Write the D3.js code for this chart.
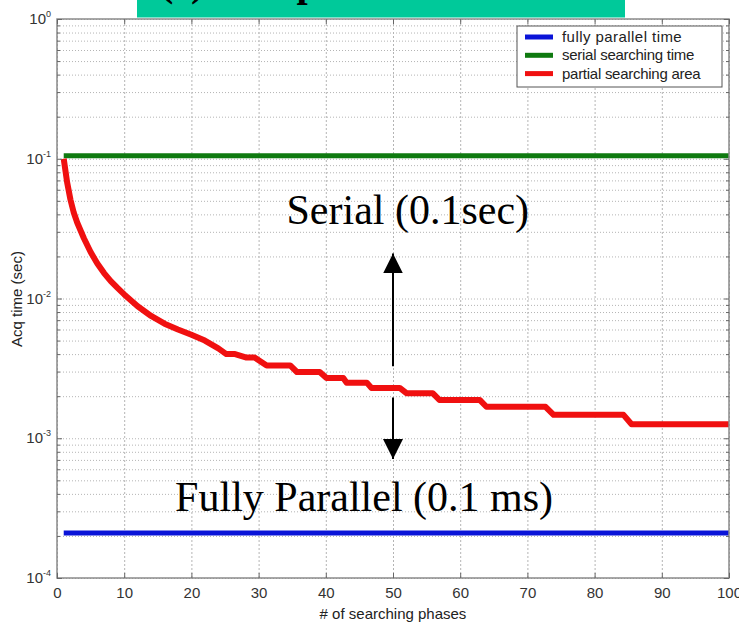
<!DOCTYPE html>
<html>
<head>
<meta charset="utf-8">
<script src="https://cdn.jsdelivr.net/npm/d3@7"></script>
<style>
  body { margin: 0; background: #fff; }
  svg { display: block; }
</style>
</head>
<body>
<div id="chart"></div>
<script>
// chart data
var xTicks = [0, 10, 20, 30, 40, 50, 60, 70, 80, 90, 100];
var yDecades = [1e-4, 1e-3, 1e-2, 1e-1, 1];
var yExponents = ["-4", "-3", "-2", "-1", "0"];

var seriesNames = ["fully parallel time", "serial searching time", "partial searching area"];
var seriesColors = ["#0a14d8", "#0f7a10", "#f01010"];

// flat lines
var parallelX = [1, 100];
var parallelY = [2.1e-4, 2.1e-4];
var serialX = [1, 100];
var serialY = [0.105, 0.105];

// partial searching (staircase)
var partialX = [1, 1.5, 2, 2.5, 3, 4, 5, 6, 7, 8, 9, 10, 12, 14, 16, 18, 20, 22, 24, 25.2, 26.5, 28.2, 29.4, 31.2, 34.7, 35.7, 39.1, 40.1, 42.6, 43.1, 46.1, 46.8, 51, 52, 55.9, 56.9, 62.9, 63.9, 72.7, 73.9, 84.3, 85.5, 100];
var partialY = [0.1, 0.068, 0.051, 0.041, 0.035, 0.027, 0.0215, 0.0178, 0.0152, 0.0133, 0.0119, 0.0107, 0.0088, 0.0075, 0.0066, 0.006, 0.0055, 0.0050, 0.0044, 0.0040, 0.0040, 0.00378, 0.00378, 0.00332, 0.00332, 0.00298, 0.00298, 0.0027, 0.0027, 0.0025, 0.0025, 0.00229, 0.00229, 0.0021, 0.0021, 0.00188, 0.00188, 0.00168, 0.00168, 0.00147, 0.00147, 0.00126, 0.00126];

// svg size
var svgWidth = 739;
var svgHeight = 623;
var margin = { top: 19, right: 10, bottom: 44, left: 57 };
var width = 672;
var height = 559;

var svg = d3.select("#chart")
  .append("svg")
  .attr("width", svgWidth)
  .attr("height", svgHeight)
  .style("font-family", "'Liberation Sans', Arial, sans-serif");

var chartGroup = svg.append("g")
  .attr("transform", `translate(${margin.left}, ${margin.top})`);

var xScale = d3.scaleLinear().domain([0, 100]).range([0, width]);
var yScale = d3.scaleLog().domain([1e-4, 1]).range([height, 0]);

// minor values for the log grid
var yMinor = [];
yDecades.slice(0, 4).forEach(function(d) {
  for (var k = 2; k <= 9; k++) yMinor.push(d * k);
});

// grid lines
chartGroup.append("g")
  .attr("class", "grid")
  .call(d3.axisLeft(yScale).tickValues(yMinor.concat(yDecades)).tickSize(-width).tickFormat(""))
  .call(g => g.select(".domain").remove())
  .selectAll("line")
  .attr("stroke", "#b4b4b4")
  .attr("stroke-dasharray", "1,2");

chartGroup.append("g")
  .attr("class", "grid")
  .attr("transform", `translate(0, ${height})`)
  .call(d3.axisBottom(xScale).tickValues(xTicks).tickSize(-height).tickFormat(""))
  .call(g => g.select(".domain").remove())
  .selectAll("line")
  .attr("stroke", "#b4b4b4")
  .attr("stroke-dasharray", "2,2");

// lines
var line = d3.line()
  .x(d => xScale(d[0]))
  .y(d => yScale(d[1]));

chartGroup.append("path")
  .datum(parallelX.map((x, i) => [x, parallelY[i]]))
  .attr("fill", "none")
  .attr("stroke", seriesColors[0])
  .attr("stroke-width", 5)
  .attr("d", line);

chartGroup.append("path")
  .datum(serialX.map((x, i) => [x, serialY[i]]))
  .attr("fill", "none")
  .attr("stroke", seriesColors[1])
  .attr("stroke-width", 5)
  .attr("d", line);

chartGroup.append("path")
  .datum(partialX.map((x, i) => [x, partialY[i]]))
  .attr("fill", "none")
  .attr("stroke", seriesColors[2])
  .attr("stroke-width", 6)
  .attr("stroke-linejoin", "round")
  .attr("d", line);

// axes box
chartGroup.append("rect")
  .attr("width", width)
  .attr("height", height)
  .attr("fill", "none")
  .attr("stroke", "#8a8a8a")
  .attr("stroke-width", 1.5);

// x axis ticks and labels
var bottomAxis = d3.axisBottom(xScale).tickValues(xTicks).tickSizeInner(-5).tickSizeOuter(0).tickPadding(9);
chartGroup.append("g")
  .attr("transform", `translate(0, ${height})`)
  .call(bottomAxis)
  .call(g => g.select(".domain").remove())
  .call(g => g.selectAll("line").attr("stroke", "#666"))
  .call(g => g.selectAll("text").attr("font-size", "15px").attr("fill", "#333").style("font-family", "'Liberation Sans', Arial, sans-serif"));

chartGroup.append("g")
  .call(d3.axisTop(xScale).tickValues(xTicks).tickSizeInner(-5).tickSizeOuter(0).tickFormat(""))
  .call(g => g.select(".domain").remove())
  .call(g => g.selectAll("line").attr("stroke", "#666"));

// y ticks, left and right
[[d3.axisLeft, 0], [d3.axisRight, width]].forEach(function(a) {
  chartGroup.append("g")
    .attr("transform", `translate(${a[1]}, 0)`)
    .call(a[0](yScale).tickValues(yDecades).tickSizeInner(-5).tickSizeOuter(0).tickFormat(""))
    .call(g => g.select(".domain").remove())
    .call(g => g.selectAll("line").attr("stroke", "#666"));
  chartGroup.append("g")
    .attr("transform", `translate(${a[1]}, 0)`)
    .call(a[0](yScale).tickValues(yMinor).tickSizeInner(-3).tickSizeOuter(0).tickFormat(""))
    .call(g => g.select(".domain").remove())
    .call(g => g.selectAll("line").attr("stroke", "#666"));
});

// y tick labels 10^k
var yLabels = chartGroup.append("g").selectAll("text")
  .data(yDecades)
  .enter()
  .append("text")
  .attr("x", -6)
  .attr("y", d => yScale(d) + 5)
  .attr("text-anchor", "end")
  .attr("fill", "#333");
yLabels.append("tspan").attr("font-size", "15px").text("10");
yLabels.append("tspan").attr("font-size", "9px").attr("dy", -7).text((d, i) => yExponents[i]);

// axis titles
svg.append("text")
  .attr("x", margin.left + width / 2)
  .attr("y", 619)
  .attr("text-anchor", "middle")
  .attr("font-size", "15px")
  .attr("fill", "#222")
  .text("# of searching phases");

svg.append("text")
  .attr("transform", "rotate(-90)")
  .attr("x", -299)
  .attr("y", 22)
  .attr("text-anchor", "middle")
  .attr("font-size", "15px")
  .attr("fill", "#222")
  .text("Acq time (sec)");

// legend
var legend = svg.append("g").attr("transform", "translate(517, 26)");
legend.append("rect")
  .attr("width", 205)
  .attr("height", 61)
  .attr("fill", "#fff")
  .attr("stroke", "#555")
  .attr("stroke-width", 1);
seriesNames.forEach(function(name, i) {
  legend.append("line")
    .attr("x1", 8).attr("x2", 36)
    .attr("y1", 11 + i * 18.3).attr("y2", 11 + i * 18.3)
    .attr("stroke", seriesColors[i])
    .attr("stroke-width", 5);
  legend.append("text")
    .attr("x", 45)
    .attr("y", 16 + i * 18.3)
    .attr("font-size", "15px")
    .attr("fill", "#222")
    .attr("textLength", name.length * 6.3)
    .text(name);
});

// annotations
var serif = "'Liberation Serif', 'Times New Roman', serif";
chartGroup.append("text")
  .attr("x", xScale(52.2))
  .attr("y", yScale(0.034))
  .attr("text-anchor", "middle")
  .attr("font-size", "42px")
  .style("font-family", serif)
  .text("Serial (0.1sec)");

chartGroup.append("text")
  .attr("x", xScale(45.7))
  .attr("y", yScale(0.0003))
  .attr("text-anchor", "middle")
  .attr("font-size", "42px")
  .style("font-family", serif)
  .text("Fully Parallel (0.1 ms)");

var defs = svg.append("defs");
defs.append("marker")
  .attr("id", "head")
  .attr("viewBox", "0 0 10 10")
  .attr("refX", 10).attr("refY", 5)
  .attr("markerWidth", 20).attr("markerHeight", 20)
  .attr("markerUnits", "userSpaceOnUse")
  .attr("orient", "auto")
  .append("path")
  .attr("d", "M0,0 L10,5 L0,10 Z")
  .attr("fill", "#000");

chartGroup.append("line")
  .attr("x1", xScale(50)).attr("x2", xScale(50))
  .attr("y1", yScale(0.00328)).attr("y2", yScale(0.021))
  .attr("stroke", "#000")
  .attr("stroke-width", 2)
  .attr("marker-end", "url(#head)");

chartGroup.append("line")
  .attr("x1", xScale(50)).attr("x2", xScale(50))
  .attr("y1", yScale(0.00196)).attr("y2", yScale(0.00071))
  .attr("stroke", "#000")
  .attr("stroke-width", 2)
  .attr("marker-end", "url(#head)");

// teal title strip at the top (text cut off by the image edge)
svg.append("rect")
  .attr("x", 137)
  .attr("y", 0)
  .attr("width", 488)
  .attr("height", 17.5)
  .attr("fill", "#00c99a");

svg.append("text")
  .attr("x", 160)
  .attr("y", -4)
  .attr("font-size", "40px")
  .attr("font-weight", "bold")
  .style("font-family", serif)
  .text("(c) Comparison");
</script>
</body>
</html>
